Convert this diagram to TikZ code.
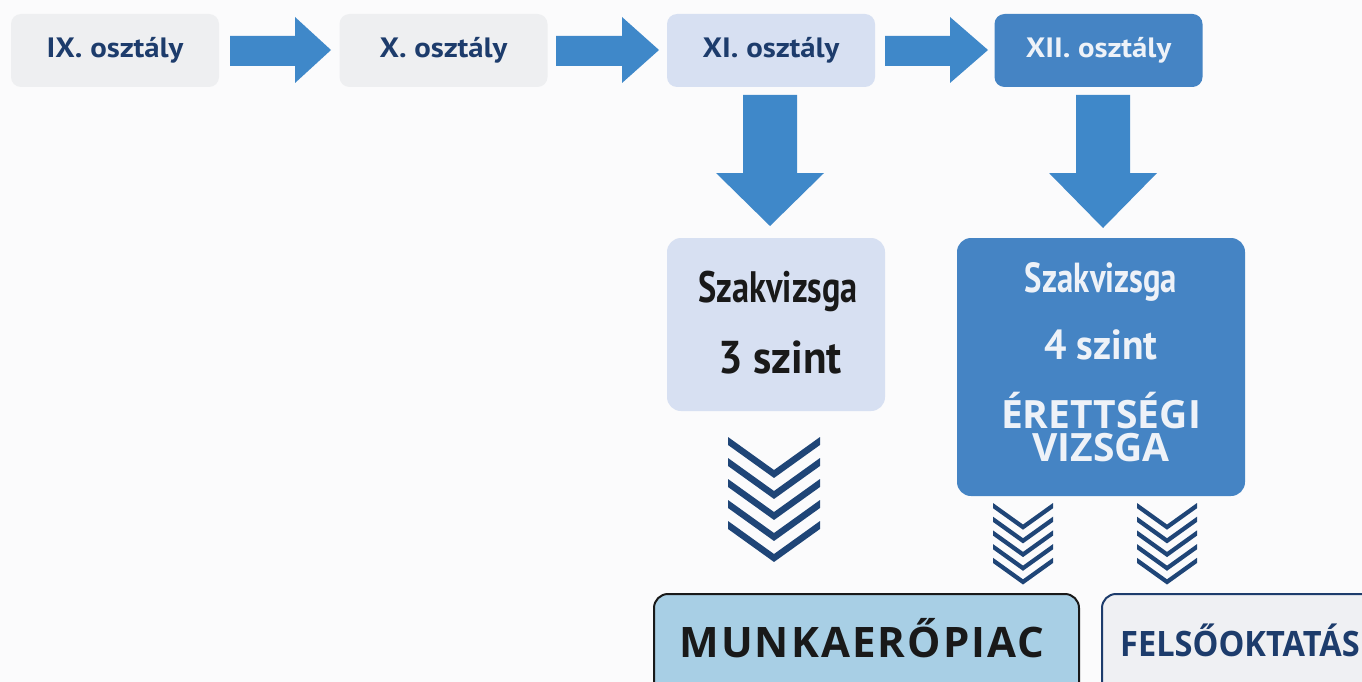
\documentclass[tikz,border=0pt]{standalone}
\usepackage{fontspec}
\setmainfont{PT Sans}
\newfontfamily\topf[FakeStretch=1.1]{PT Sans}
\newfontfamily\condf[FakeStretch=0.78]{PT Sans}
\newfontfamily\midf[FakeStretch=0.94]{PT Sans}
\newfontfamily\openf{Open Sans}
\newfontfamily\openwide[LetterSpace=5]{Open Sans}
\newfontfamily\opennarrow[FakeStretch=0.93]{Open Sans}
\usetikzlibrary{calc}
\definecolor{bg}{HTML}{FBFBFC}
\definecolor{greybox}{HTML}{EEEFF1}
\definecolor{lightbox}{HTML}{D7E0F2}
\definecolor{midbox}{HTML}{4584C4}
\definecolor{arrowblue}{HTML}{3F88C9}
\definecolor{navy}{HTML}{1D3C6C}
\definecolor{chev}{HTML}{1F4577}
\definecolor{munka}{HTML}{A8CFE5}
\definecolor{felso}{HTML}{EFF0F3}
\definecolor{paletext}{HTML}{EEF2F8}
\tikzset{
  classbox/.style={rounded corners=10pt, minimum width=208pt, minimum height=73pt, inner sep=0pt,
    font=\topf\bfseries\fontsize{28}{30}\selectfont},
  exambox/.style={rounded corners=14pt, inner sep=0pt},
  label/.style={inner sep=0pt, anchor=base},
  blockarrow/.style={fill=arrowblue},
  chevron/.style={fill=chev},
}
\newcommand\chevrons[5]{% center x, top y, width, depth, spacing
  \foreach \k in {0,...,4}{
    \fill[chevron] ($(#1,#2)+(-#3/2,#5*\k)$) -- ++(#3/2,#4) -- ++(#3/2,-#4) -- ++(0,#5*0.38) -- ++(-#3/2,#4) -- ++(-#3/2,-#4) -- cycle;
  }
}
\begin{document}
\begin{tikzpicture}[x=1pt,y=-1pt]
\useasboundingbox (0,0) rectangle (1362,682);
\clip (0,0) rectangle (1362,682);
\fill[bg] (0,0) rectangle (1362,682);

% top row
\node[classbox, fill=greybox, text=navy] (ix) at (115,50.5) {IX. osztály};
\node[classbox, fill=greybox, text=navy] (x) at (443.5,50.5) {X. osztály};
\node[classbox, fill=lightbox, text=navy] (xi) at (771,50.5) {XI. osztály};
\node[classbox, fill=midbox, text=paletext] (xii) at (1098.5,50.5) {XII. osztály};

% horizontal block arrows
\foreach \sx/\hx/\tx in {230/295/331, 556/622/659, 885/950/988}{
  \fill[blockarrow] (\sx,36) -- (\hx,36) -- (\hx,17) -- (\tx,50) -- (\hx,83) -- (\hx,66) -- (\sx,66) -- cycle;
}
% vertical block arrows
\fill[blockarrow] (743,95) -- (797,95) -- (797,173) -- (824,173) -- (770,226) -- (716,173) -- (743,173) -- cycle;
\fill[blockarrow] (1076,95) -- (1130,95) -- (1130,173) -- (1157,173) -- (1103,228) -- (1049,173) -- (1076,173) -- cycle;

% exam boxes
\node[exambox, fill=lightbox, minimum width=218pt, minimum height=173pt] (sz3) at (776,324.5) {};
\node[label, font=\condf\bfseries\fontsize{44}{46}\selectfont, text=black!90] (sz3a) at (778,302) {Szakvizsga};
\node[label, font=\midf\bfseries\fontsize{46}{48}\selectfont, text=black!90] (sz3b) at (780,373) {3 szint};

\node[exambox, fill=midbox, minimum width=288pt, minimum height=258pt] (sz4) at (1101,367) {};
\node[label, font=\condf\bfseries\fontsize{42}{44}\selectfont, text=paletext] (sz4a) at (1101,292) {Szakvizsga};
\node[label, font=\midf\bfseries\fontsize{42}{44}\selectfont, text=paletext] (sz4b) at (1101,359) {4 szint};
\node[inner sep=0pt, anchor=base, align=center, font=\openf\bfseries\fontsize{39}{33}\selectfont, text=paletext] (sz4c) at (1101,461) {ÉRETTSÉGI\\VIZSGA};

% chevrons
\chevrons{774}{437}{92}{33}{21}
\chevrons{1023}{503}{60}{21.5}{13.7}
\chevrons{1167}{503}{60}{21.5}{13.7}

% destination boxes
\node[exambox, draw=black!90, line width=2pt, fill=munka, minimum width=425pt, minimum height=120pt, anchor=north west] (munka) at (653,593) {};
\node[label, font=\openwide\bfseries\fontsize{42}{42}\selectfont, text=black!90] (munkat) at (862,657) {MUNKAERŐPIAC};
\node[exambox, draw=navy, line width=2pt, fill=felso, minimum width=300pt, minimum height=120pt, anchor=north west] (felso) at (1101,593) {};
\node[label, font=\opennarrow\bfseries\fontsize{35}{35}\selectfont, text=navy] (felsot) at (1240,656) {FELSŐOKTATÁS};
\end{tikzpicture}
\end{document}
